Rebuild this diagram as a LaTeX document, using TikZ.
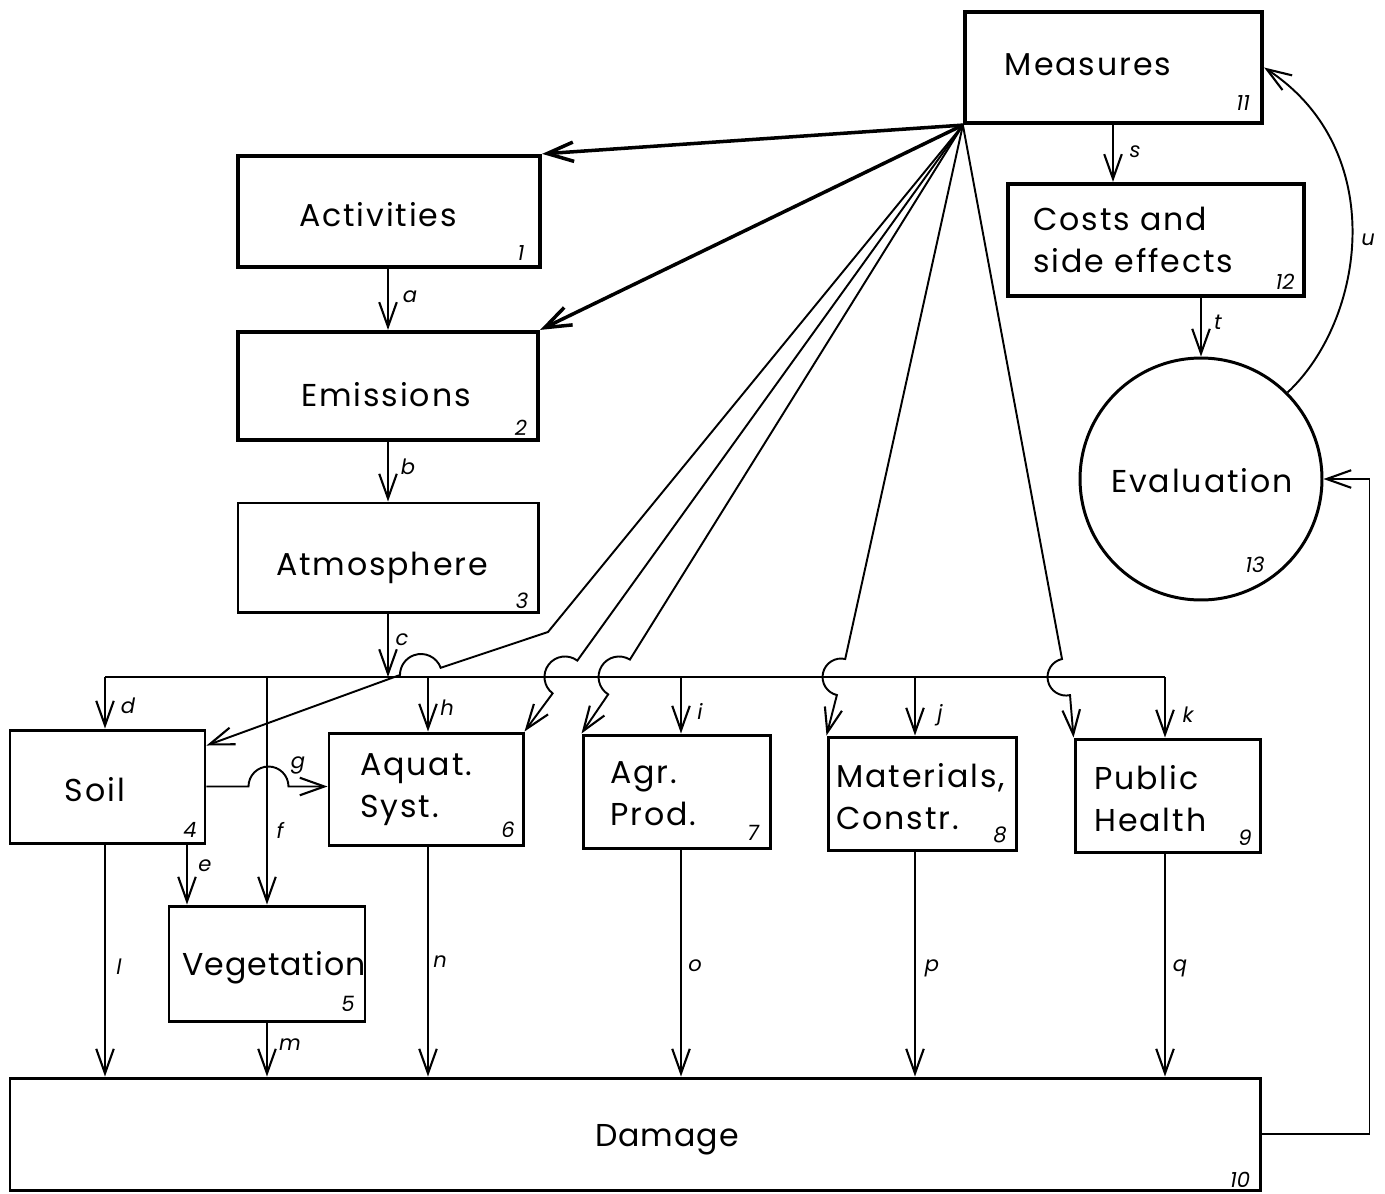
\documentclass[tikz,border=0pt]{standalone}
\usepackage{fontspec}
\setmainfont{Poppins}
\usetikzlibrary{arrows.meta,fit}
\begin{document}
\begin{tikzpicture}[x=0.02cm,y=-0.02cm,
 box/.style={draw, line width=1.7pt, inner sep=0pt},
 tbox/.style={draw, line width=2.4pt, inner sep=0pt},
 txt/.style={font=\fontsize{18}{24}\selectfont\addfontfeatures{LetterSpace=6}, inner sep=0pt, align=left},
 num/.style={font=\fontsize{12}{14}\selectfont\itshape, inner sep=0pt},
 lab/.style={font=\fontsize{12}{14}\selectfont\itshape, inner sep=0pt},
 arr/.style={line width=1.1pt, -{Straight Barb[length=14pt,width=10pt,line width=1.2pt]}},
 tarr/.style={line width=2pt, -{Straight Barb[length=15pt,width=11pt,line width=2pt]}},
 ln/.style={line width=1.1pt}]
\useasboundingbox (0,0) rectangle (1385,1193);

% boxes
\node[tbox, fit={(965,12) (1262,123)}] (meas) {};
\node[tbox, fit={(1008,184) (1304,296)}] (cost) {};
\node[box, circle, minimum size=4.84cm] (eval) at (1201,479) {};
\node[tbox, fit={(238,156) (540,267)}] (act) {};
\node[tbox, fit={(238,332) (538,440)}] (emi) {};
\node[box, fit={(238,503) (538,612)}] (atm) {};
\node[box, fit={(10,730) (205,843)}] (soil) {};
\node[box, fit={(169,906) (365,1021)}] (veg) {};
\node[box, fit={(329,733) (523,845)}] (aq) {};
\node[box, fit={(583,735) (770,848)}] (agr) {};
\node[box, fit={(828,737) (1016,850)}] (mat) {};
\node[box, fit={(1075,739) (1260,852)}] (ph) {};
\node[box, fit={(10,1078) (1260,1190)}] (dmg) {};

% texts
\node[txt] (measT) at (1088,65) {Measures};
\node[txt, anchor=west] (costT) at (1033,240) {Costs and\\side effects};
\node[txt] (evalT) at (1202,481) {Evaluation};
\node[txt] (actT) at (378,215) {Activities};
\node[txt] (emiT) at (386,395) {Emissions};
\node[txt] (atmT) at (382,568) {Atmosphere};
\node[txt] (soilT) at (95,790) {Soil};
\node[txt, font=\fontsize{18}{24}\selectfont\addfontfeatures{LetterSpace=3}] (vegT) at (274,968) {Vegetation};
\node[txt, anchor=west] (aqT) at (360,790) {Aquat.\\Syst.};
\node[txt, anchor=west] (agrT) at (610,794) {Agr.\\Prod.};
\node[txt, anchor=west] (matT) at (836,797) {Materials,\\Constr.};
\node[txt, anchor=west] (phT) at (1094,799) {Public\\Health};
\node[txt, font=\fontsize{18}{24}\selectfont\addfontfeatures{LetterSpace=3}] (dmgT) at (667,1140) {Damage};

% numbers
\node[num] (n11) at (1243,103) {11};
\node[num] (n12) at (1285,282) {12};
\node[num] (n13) at (1255,565) {13};
\node[num] (n1) at (521,253) {1};
\node[num] (n2) at (521,428) {2};
\node[num] (n3) at (522,601) {3};
\node[num] (n4) at (190,830) {4};
\node[num] (n5) at (348,1004) {5};
\node[num] (n6) at (508,830) {6};
\node[num] (n7) at (753,833) {7};
\node[num] (n8) at (1000,835) {8};
\node[num] (n9) at (1245,838) {9};
\node[num] (n10) at (1240,1180) {10};

% column coordinates
\coordinate (xa) at (388,0);
\coordinate (xe) at (187,0);
\coordinate (xs) at (1113,0);
\coordinate (xt) at (1201,0);
\coordinate (bL) at (105,677);
\coordinate (bf) at (267,677);
\coordinate (bh) at (428,677);
\coordinate (bi) at (681,677);
\coordinate (bj) at (915,677);
\coordinate (bR) at (1165,677);

% main chain
\draw[arr] (xa |- act.south) -- (xa |- emi.north);
\draw[arr] (xa |- emi.south) -- (xa |- atm.north);
\draw[arr] (xa |- atm.south) -- (xa |- bL);
\draw[ln] (bL) -- (bR);
\draw[arr] (bL) -- (bL |- soil.north);
\draw[arr] (bf) -- (bf |- veg.north);
\draw[arr] (bh) -- (bh |- aq.north);
\draw[arr] (bi) -- (bi |- agr.north);
\draw[arr] (bj) -- (bj |- mat.north);
\draw[arr] (bR) -- (bR |- ph.north);

% to damage
\draw[arr] (xe |- soil.south) -- (xe |- veg.north);
\draw[arr] (bL |- soil.south) -- (bL |- dmg.north);
\draw[arr] (bf |- veg.south) -- (bf |- dmg.north);
\draw[arr] (bh |- aq.south) -- (bh |- dmg.north);
\draw[arr] (bi |- agr.south) -- (bi |- dmg.north);
\draw[arr] (bj |- mat.south) -- (bj |- dmg.north);
\draw[arr] (bR |- ph.south) -- (bR |- dmg.north);

% g
\draw[arr] (soil.east) -- ++(42,0) arc[start angle=180,end angle=0,radius=0.4cm] -- (aq.west |- soil.east);

% measures fan
\draw[tarr] (meas.south west) -- (act.north east);
\draw[tarr] (meas.south west) -- (emi.north east);
\draw[arr] (meas.south west) -- (548,632) -- (440.7,667.8) arc[start angle=20,end angle=180,radius=0.42cm] -- ([yshift=-0.34cm]soil.north east);
\draw[arr] (meas.south west) -- (577.3,660.6) arc[start angle=53,end angle=233,radius=0.41cm] -- (aq.north east);
\draw[arr] (meas.south west) -- (629.9,659.6) arc[start angle=58,end angle=238,radius=0.41cm] -- (agr.north west);
\draw[arr] (meas.south west) -- (845.2,659) arc[start angle=77,end angle=257,radius=0.37cm] -- (mat.north west);
\draw[arr] (meas.south west) -- (1062,659) arc[start angle=102.5,end angle=282.5,radius=0.37cm] -- (ph.north west);

% right side
\draw[arr] (xs |- meas.south) -- (xs |- cost.north);
\draw[arr] (xt |- cost.south) -- (eval.north);
\draw[arr] (eval.45) .. controls (1365,320) and (1390,150) .. (meas.east);
\draw[arr] (dmg.east) -- ++(108,0) |- (eval.east);

% labels
\node[lab] (la) at (410,297) {a};
\node[lab] (lb) at (408,467) {b};
\node[lab] (lc) at (402,640) {c};
\node[lab] (ld) at (128,706) {d};
\node[lab] (le) at (205,866) {e};
\node[lab] (lf) at (280,830) {f};
\node[lab] (lg) at (298,765) {g};
\node[lab] (lh) at (447,708) {h};
\node[lab] (li) at (700,711) {i};
\node[lab] (lj) at (940,715) {j};
\node[lab] (lk) at (1188,715) {k};
\node[lab] (ll) at (119,967) {l};
\node[lab] (lm) at (290,1045) {m};
\node[lab] (ln) at (440,962) {n};
\node[lab] (lo) at (695,966) {o};
\node[lab] (lp) at (932,968) {p};
\node[lab] (lq) at (1180,968) {q};
\node[lab] (ls) at (1135,152) {s};
\node[lab] (lt) at (1218,322) {t};
\node[lab] (lu) at (1368,240) {u};
\end{tikzpicture}
\end{document}
